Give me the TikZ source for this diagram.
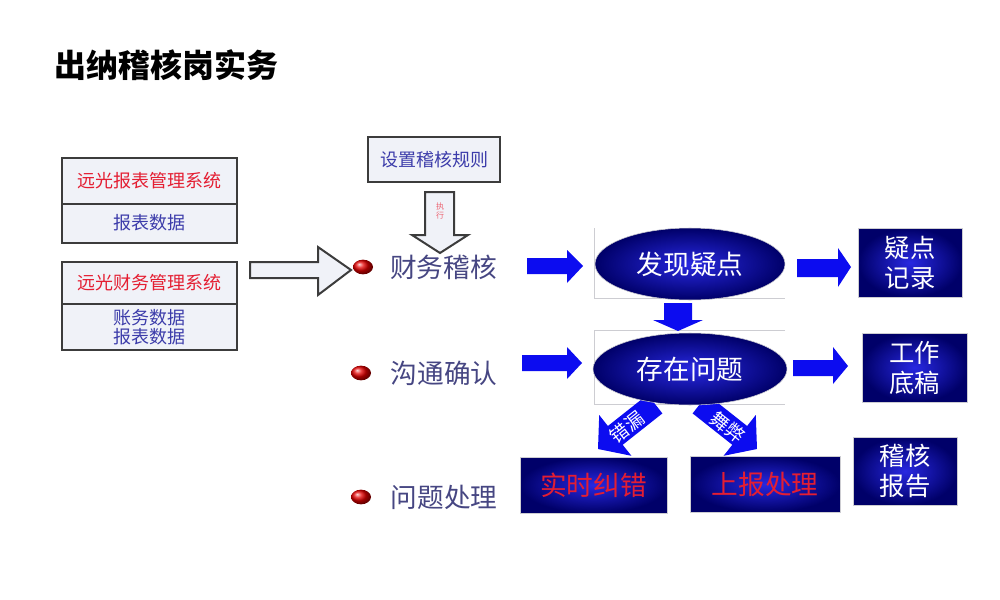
\documentclass[tikz,border=0pt]{standalone}
\usepackage{fontspec}
\setmainfont{Noto Sans CJK SC}
\usetikzlibrary{positioning,shapes.geometric}

\definecolor{framegray}{RGB}{60,60,60}
\definecolor{paleface}{RGB}{240,242,248}
\definecolor{sysred}{RGB}{228,30,50}
\definecolor{datablue}{RGB}{60,60,170}
\definecolor{stagecol}{RGB}{70,70,130}
\definecolor{arrowblue}{RGB}{12,12,240}
\definecolor{navyout}{RGB}{0,0,105}
\definecolor{navyin}{RGB}{40,40,225}
\definecolor{hairgray}{RGB}{205,205,210}

\tikzset{every picture/.style={line width=0.75pt}}
\tikzset{
  lightbox/.style={draw=framegray, line width=1.5pt, fill=paleface, inner sep=0pt, outer sep=0pt, align=center},
  hollowarrow/.style={draw=framegray, line width=1.5pt, fill=paleface},
  bluearrow/.style={fill=arrowblue},
  navybox/.style={draw=hairgray, line width=0.4pt, shading=radial, inner color=navyin, outer color=navyout, inner sep=0pt, align=center, text=white},
  navyoval/.style={ellipse, navybox},
  bullet/.style={ellipse, shade, ball color=red!90!black, minimum width=15pt, minimum height=11pt, inner sep=0pt},
  stage/.style={text=stagecol, font=\fontsize{20}{24}\selectfont, inner sep=0pt},
  slanttext/.style={inner sep=0pt, text=white, font=\fontsize{14}{16}\selectfont}
}

\begin{document}
\begin{tikzpicture}[x=0.75pt,y=0.75pt,yscale=-1,xscale=1]
\useasboundingbox (0,0) rectangle (1000,600);

% Title
\node[anchor=west, inner sep=0pt, font=\bfseries\fontsize{24}{28}\selectfont] (title) at (54,65) {出纳稽核岗实务};

%Shape: Rectangle - report system
\node[lightbox, minimum width=131.25pt, minimum height=34.5pt, text=sysred, font=\fontsize{13.5}{16}\selectfont] (rptsys) at (149.5,180.5) {远光报表管理系统};
\node[lightbox, minimum width=131.25pt, minimum height=29.25pt, text=datablue, font=\fontsize{13.5}{16}\selectfont, below=0pt of rptsys] (rptdata) {报表数据};
%Shape: Rectangle - finance system
\node[lightbox, minimum width=131.25pt, minimum height=31.5pt, text=sysred, font=\fontsize{13.5}{16}\selectfont] (finsys) at (149.5,283) {远光财务管理系统};
\node[lightbox, minimum width=131.25pt, minimum height=34.5pt, text=datablue, font=\fontsize{13.5}{14.5}\selectfont, below=0pt of finsys] (findata) {账务数据\\报表数据};

%Shape: Rectangle - rules
\node[lightbox, minimum width=99pt, minimum height=33.75pt, text=datablue, font=\fontsize{13.5}{16}\selectfont] (rules) at (434,159.5) {设置稽核规则};

%Shape: Right Arrow (hollow)
\draw[hollowarrow] (250,262) -- (318,262) -- (318,247) -- (351,270) -- (318,295) -- (318,278) -- (250,278) -- cycle ;
%Shape: Down Arrow (hollow)
\draw[hollowarrow] (425,192) -- (454,192) -- (454,235) -- (468,235) -- (440,253) -- (412,235) -- (425,235) -- cycle ;
\node[inner sep=0pt, text=sysred!70, align=center, font=\fontsize{6}{7}\selectfont] (exec) at (440,211) {执\\行};

%Shape: Bullets and stages
\node[bullet] (b1) at (363,267) {};
\node[stage, right=12pt of b1] (audit) {财务稽核};
\node[bullet] (b2) at (361,373) {};
\node[stage, right=14pt of b2] (confirm) {沟通确认};
\node[bullet] (b3) at (361,497) {};
\node[stage, right=14pt of b3] (handle) {问题处理};

%Straight Lines - thin frames round the ovals
\draw[hairgray, line width=0.5pt] (594,228) -- (594,298) -- (785,298) ;
\draw[hairgray, line width=0.5pt] (785,330) -- (594,330) -- (594,404) -- (785,404) ;

%Shape: Blue arrows
\fill[bluearrow] (527,258) -- (567,258) -- (567,250) -- (583,266) -- (567,283) -- (567,274) -- (527,274) -- cycle ;
\fill[bluearrow] (522,355) -- (567,355) -- (567,347) -- (582,363) -- (567,379) -- (567,371) -- (522,371) -- cycle ;
\fill[bluearrow] (797,259) -- (838,259) -- (838,248) -- (851,267) -- (838,287) -- (838,277) -- (797,277) -- cycle ;
\fill[bluearrow] (793,360) -- (833,360) -- (833,347) -- (848,366) -- (833,384) -- (833,376) -- (793,376) -- cycle ;
\fill[bluearrow] (664,303) -- (692,303) -- (692,320) -- (703,320) -- (678,331) -- (653,320) -- (664,320) -- cycle ;
%Shape: Slanted arrows
\fill[bluearrow] (647.6,394.6) -- (607.9,426) -- (599.2,415) -- (598,449) -- (631.4,455.8) -- (622.7,444.8) -- (662.4,413.4) -- cycle ;
\fill[bluearrow] (707.4,394.6) -- (747.1,426) -- (755.8,415) -- (757,449) -- (723.6,455.8) -- (732.3,444.8) -- (692.6,413.4) -- cycle ;
\node[slanttext, rotate=38] (slip) at (627,427) {错漏};
\node[slanttext, rotate=-38] (fraud) at (728,427) {舞弊};

%Shape: Ovals
\node[navyoval, minimum width=142.5pt, minimum height=54pt, font=\fontsize{20}{24}\selectfont] (found) at (690,264) {发现疑点};
\node[navyoval, minimum width=145.5pt, minimum height=54pt, font=\fontsize{20}{24}\selectfont] (issue) at (690,369) {存在问题};

%Shape: Navy boxes
\node[navybox, minimum width=78pt, minimum height=51.75pt, font=\fontsize{19}{22.5}\selectfont] (record) at (910,262.5) {疑点\\记录};
\node[navybox, minimum width=78.75pt, minimum height=51.75pt, font=\fontsize{19}{22.5}\selectfont] (draft) at (914.5,367.5) {工作\\底稿};
\node[navybox, minimum width=78pt, minimum height=51pt, font=\fontsize{19}{22.5}\selectfont] (report) at (905,471) {稽核\\报告};
\node[navybox, minimum width=110.25pt, minimum height=42pt, text=sysred, font=\fontsize{20}{24}\selectfont] (fix) at (593.5,485) {实时纠错};
\node[navybox, minimum width=112.5pt, minimum height=42pt, text=sysred, font=\fontsize{20}{24}\selectfont] (escalate) at (765,484) {上报处理};

\end{tikzpicture}
\end{document}
